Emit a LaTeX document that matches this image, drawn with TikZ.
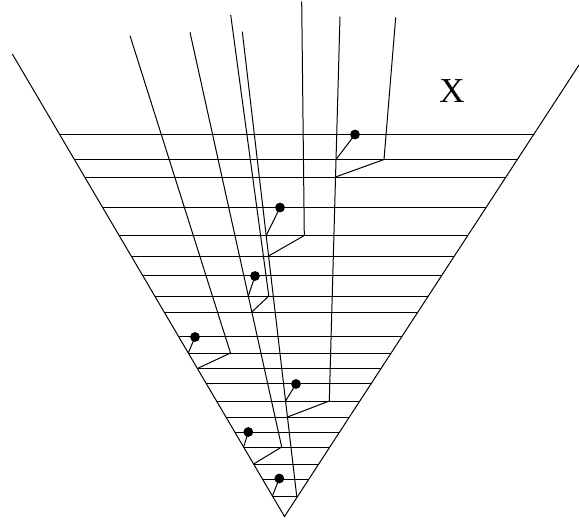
\documentclass[tikz,border=0pt]{standalone}
\usepackage{fontspec}
\setmainfont{Liberation Serif}
\usepackage{tikz}
\usetikzlibrary{calc}

\begin{document}
\begin{tikzpicture}[
  x=1pt, y=-1pt,
  wl/.style={line width=1pt},
  dot/.style={circle, fill, inner sep=0pt, minimum size=9.8pt}
]
\useasboundingbox (0,0) rectangle (579,520);
% cone
\coordinate (apex) at (284.5,516.5);
\coordinate (ltop) at (12.3,54);
\coordinate (rtop) at (579,65);
\draw[wl] (ltop) -- (apex) -- (rtop);
% time slices
\foreach \y in {134.5,159.5,177,207.5,235.5,256,275,296,312,336.5,353,368.5,383.5,401,417,432,447,464,479,496} {
  \pgfmathsetmacro{\xl}{284.5-0.5885*(516.5-\y)}
  \pgfmathsetmacro{\xr}{284.5+0.6523*(516.5-\y)}
  \draw[wl] (\xl,\y) -- (\xr,\y);
}
% world lines
\coordinate (a0) at (130,35.7);
\coordinate (a1) at (230.5,353);
\coordinate (a2) at (197.4,368.5);
\coordinate (b0) at (190,32.3);
\coordinate (b1) at (281.7,447);
\coordinate (b2) at (253.6,464);
\coordinate (c0) at (230.7,15);
\coordinate (c1) at (268.8,296);
\coordinate (c2) at (251.8,312);
\coordinate (m0) at (242.3,31.7);
\coordinate (m1) at (296.7,496);
\coordinate (e0) at (301.7,1.7);
\coordinate (e1) at (304.3,235.5);
\coordinate (e2) at (268.6,256);
\coordinate (f0) at (340,16.7);
\coordinate (f1) at (329.3,401);
\coordinate (f2) at (287.5,417);
\coordinate (g0) at (395.7,17.3);
\coordinate (g1) at (384,159.5);
\coordinate (g2) at (335.5,177);
\draw[wl] (a0) -- (a1) -- (a2);
\draw[wl] (b0) -- (b1) -- (b2);
\draw[wl] (c0) -- (c1) -- (c2);
\draw[wl] (m0) -- (m1);
\draw[wl] (e0) -- (e1) -- (e2);
\draw[wl] (f0) -- (f1) -- (f2);
\draw[wl] (g0) -- (g1) -- (g2);
% emitted points
\node[dot] (d1) at (355,134.5) {};
\node[dot] (d2) at (280,207.5) {};
\node[dot] (d3) at (255,276) {};
\node[dot] (d4) at (195,337) {};
\node[dot] (d5) at (296,384) {};
\node[dot] (d6) at (248.3,432) {};
\node[dot] (d7) at (279.3,478.5) {};
\coordinate (s1) at (336,159.5);
\coordinate (s2) at (266.2,235.5);
\coordinate (s3) at (248.3,296);
\coordinate (s4) at (188.3,353);
\coordinate (s5) at (285.6,401);
\coordinate (s6) at (243.6,447);
\coordinate (s7) at (272.4,496);
\foreach \i in {1,...,7}
  \draw[wl] (d\i.center) -- (s\i);
\node[font=\fontsize{35}{40}\selectfont] (lab) at (452,91) {X};
\end{tikzpicture}
\end{document}
